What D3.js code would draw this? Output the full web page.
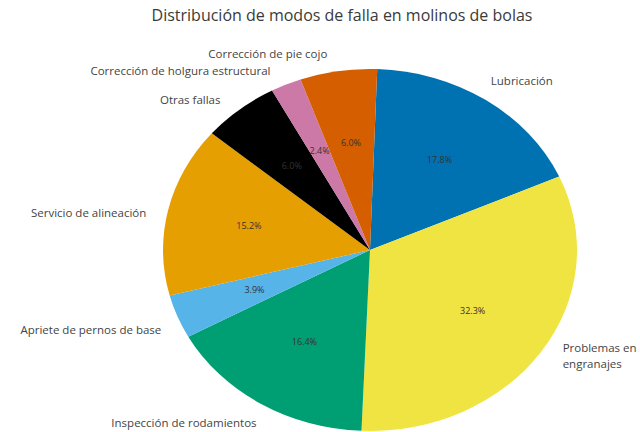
<!DOCTYPE html>
<html>
<head>
<meta charset="utf-8">
<script src="https://cdn.jsdelivr.net/npm/d3@7"></script>
<style>
  body { margin: 0; background: #fff; }
  text { font-family: "Open Sans", sans-serif; }
</style>
</head>
<body>
<div id="wrapper"></div>
<script>
const categories = ["Lubricación", "Problemas en engranajes", "Inspección de rodamientos",
	"Apriete de pernos de base", "Servicio de alineación", "Otras fallas",
	"Corrección de holgura estructural", "Corrección de pie cojo"];
const labelLines = [["Lubricación"], ["Problemas en", "engranajes"], ["Inspección de rodamientos"],
	["Apriete de pernos de base"], ["Servicio de alineación"], ["Otras fallas"],
	["Corrección de holgura estructural"], ["Corrección de pie cojo"]];
const shares = [17.8, 32.3, 16.4, 3.9, 15.2, 6.0, 2.4, 6.0];
const colors = ["#0072B2", "#F0E442", "#009E73", "#56B4E9", "#E69F00", "#000000", "#CC79A7", "#D55E00"];
const title = "Distribución de modos de falla en molinos de bolas";

const dimensions = { width: 640, height: 432, cx: 370, cy: 250, rx: 207, ry: 181 };
const squash = dimensions.ry / dimensions.rx;
const turn = 2 * Math.PI / 180; // wedges are turned a touch clockwise, labels are not

const wrapper = d3.select("#wrapper").append("svg")
	.attr("width", dimensions.width)
	.attr("height", dimensions.height);

wrapper.append("text")
	.attr("x", 342)
	.attr("y", 15)
	.attr("dy", "0.35em")
	.attr("text-anchor", "middle")
	.attr("font-size", "16px")
	.attr("fill", "#3a3a3a")
	.text(title);

const pieGen = d3.pie().sort(null).value(d => d)
	.startAngle(turn)
	.endAngle(turn + 2 * Math.PI);
const arcs = pieGen(shares);
const labelPie = d3.pie().sort(null).value(d => d);
const labelSlices = labelPie(shares);

const arcGen = d3.arc().innerRadius(0).outerRadius(dimensions.rx);
const pctArc = d3.arc().innerRadius(dimensions.rx * 0.6).outerRadius(dimensions.rx * 0.6);
const labelArc = d3.arc().innerRadius(dimensions.rx * 1.1).outerRadius(dimensions.rx * 1.1);

const pieGroup = wrapper.append("g")
	.attr("transform", `translate(${dimensions.cx},${dimensions.cy}) scale(1,${squash})`);

pieGroup.selectAll("path")
	.data(arcs)
	.enter()
	.append("path")
	.attr("d", arcGen)
	.attr("fill", (d, i) => colors[i]);

const bounds = wrapper.append("g")
	.attr("transform", `translate(${dimensions.cx},${dimensions.cy})`);

bounds.selectAll(".pct")
	.data(arcs)
	.enter()
	.append("text")
	.attr("class", "pct")
	.attr("x", d => pctArc.centroid(d)[0])
	.attr("y", d => pctArc.centroid(d)[1] * squash)
	.attr("dy", "0.35em")
	.attr("text-anchor", "middle")
	.attr("font-size", "9px")
	.attr("fill", "#333")
	.text(d => d.value.toFixed(1) + "%");

const outer = bounds.selectAll(".lbl")
	.data(labelSlices)
	.enter()
	.append("text")
	.attr("class", "lbl")
	.attr("font-size", "11.5px")
	.attr("fill", "#444")
	.attr("text-anchor", d => labelArc.centroid(d)[0] < 0 ? "end" : "start")
	.attr("transform", d => {
		const [x, y] = labelArc.centroid(d);
		return `translate(${x},${y * squash})`;
	});

outer.each(function(d, i) {
	const lines = labelLines[i];
	const t = d3.select(this);
	lines.forEach((line, j) => {
		t.append("tspan")
			.attr("x", 0)
			.attr("y", (j - (lines.length - 1) / 2) * 16)
			.attr("dy", "0.35em")
			.text(line);
	});
});
</script>
</body>
</html>
